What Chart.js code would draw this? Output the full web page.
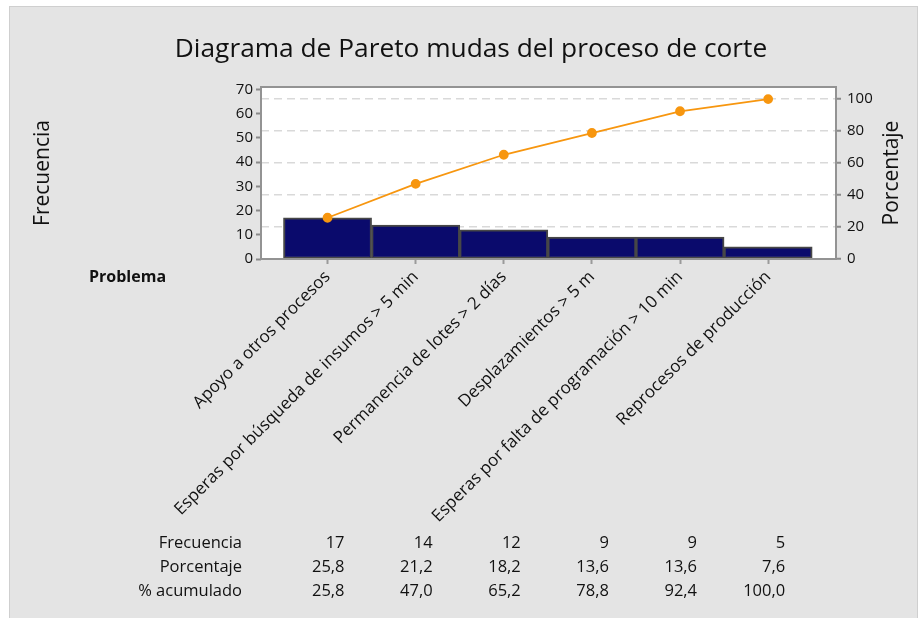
<!DOCTYPE html>
<html>
<head>
<meta charset="utf-8">
<script src="https://cdn.jsdelivr.net/npm/chart.js@4/dist/chart.umd.min.js"></script>
<style>
  html, body { margin: 0; padding: 0; background: #ffffff; }
  canvas { display: block; }
</style>
</head>
<body>
<canvas id="pareto" width="919" height="618"></canvas>
<script>
const categorias = [
    'Apoyo a otros procesos',
    'Esperas por búsqueda de insumos > 5 min',
    'Permanencia de lotes > 2 días',
    'Desplazamientos > 5 m',
    'Esperas por falta de programación > 10 min',
    'Reprocesos de producción'
];
const frecuencia = [17, 14, 12, 9, 9, 5];
const porcentaje = [25.8, 21.2, 18.2, 13.6, 13.6, 7.6];
const acumulado = [25.8, 47.0, 65.2, 78.8, 92.4, 100.0];
const ticksFrecuencia = [0, 10, 20, 30, 40, 50, 60, 70];
const ticksPorcentaje = [0, 20, 40, 60, 80, 100];

const FONT = "'Open Sans', 'Noto Sans', sans-serif";
const total = frecuencia.reduce((a, b) => a + b, 0);
const maxFrec = 71;
const maxPct = maxFrec / total * 100;

const fmt = v => v.toFixed(1).replace('.', ',');

// fondo gris, marco del área de trazado, títulos y tabla inferior
const decoracion = {
    id: 'decoracion',
    beforeDraw(chart) {
        const {ctx, chartArea: a} = chart;
        ctx.save();
        ctx.fillStyle = '#e4e4e4';
        ctx.fillRect(9, 6, 909, 612);
        ctx.strokeStyle = '#cfcfcf';
        ctx.lineWidth = 1;
        ctx.strokeRect(9.5, 6.5, 908, 612);
        ctx.fillStyle = '#ffffff';
        ctx.fillRect(a.left, a.top, a.right - a.left, a.bottom - a.top);
        ctx.restore();
    },
    afterDatasetsDraw(chart) {
        const {ctx, chartArea: a} = chart;
        ctx.save();
        ctx.strokeStyle = '#939393';
        ctx.lineWidth = 2;
        ctx.strokeRect(a.left, a.top, a.right - a.left, a.bottom - a.top);
        ctx.restore();
    },
    afterDraw(chart) {
        const {ctx, chartArea: a} = chart;
        const x = chart.scales.x;
        ctx.save();
        ctx.fillStyle = '#111111';

        ctx.font = `26.3px ${FONT}`;
        ctx.textAlign = 'center';
        ctx.textBaseline = 'alphabetic';
        ctx.fillText('Diagrama de Pareto mudas del proceso de corte', 471, 57);

        ctx.font = `21px ${FONT}`;
        ctx.textBaseline = 'middle';
        ctx.save();
        ctx.translate(43, (a.top + a.bottom) / 2);
        ctx.rotate(-Math.PI / 2);
        ctx.fillText('Frecuencia', 0, 0);
        ctx.restore();
        ctx.save();
        ctx.translate(892, (a.top + a.bottom) / 2);
        ctx.rotate(-Math.PI / 2);
        ctx.fillText('Porcentaje', 0, 0);
        ctx.restore();

        ctx.font = `bold 16px ${FONT}`;
        ctx.textAlign = 'left';
        ctx.textBaseline = 'alphabetic';
        ctx.fillText('Problema', 89, 282);

        const filas = [
            ['Frecuencia', frecuencia.map(v => String(v))],
            ['Porcentaje', porcentaje.map(fmt)],
            ['% acumulado', acumulado.map(fmt)]
        ];
        ctx.font = `16.5px ${FONT}`;
        ctx.textAlign = 'right';
        filas.forEach(([nombre, valores], r) => {
            const y = 547.5 + r * 24;
            ctx.fillText(nombre, 242, y);
            valores.forEach((t, i) => {
                ctx.fillText(t, x.getPixelForValue(i) + 17, y);
            });
        });
        ctx.restore();
    }
};

new Chart(document.getElementById('pareto').getContext('2d'), {
    data: {
        datasets: [
            {
                type: 'line',
                data: acumulado.map((v, i) => ({x: i, y: v})),
                yAxisID: 'yPct',
                borderColor: '#f7960f',
                backgroundColor: '#f7960f',
                borderWidth: 1.8,
                pointRadius: 4,
                pointHoverRadius: 4,
                tension: 0,
                order: 0
            },
            {
                type: 'bar',
                data: frecuencia.map((v, i) => ({x: i, y: v})),
                yAxisID: 'y',
                backgroundColor: '#0a0a6c',
                borderColor: '#474747',
                borderWidth: 2,
                borderSkipped: false,
                barPercentage: 1,
                categoryPercentage: 1,
                order: 1
            }
        ]
    },
    options: {
        responsive: false,
        animation: false,
        devicePixelRatio: 1,
        layout: {padding: {left: 216, right: 38, top: 87, bottom: 59}},
        plugins: {
            legend: {display: false},
            tooltip: {enabled: false}
        },
        scales: {
            x: {
                type: 'linear',
                position: 'bottom',
                offset: false,
                bounds: 'data',
                min: -0.755,
                max: 5.77,
                afterBuildTicks: s => { s.ticks = categorias.map((_, i) => ({value: i})); },
                afterFit: s => { s.height = 300; },
                border: {display: false},
                grid: {offset: false, drawOnChartArea: false, tickLength: 5, tickColor: '#9a9a9a', tickWidth: 2},
                ticks: {
                    autoSkip: false,
                    minRotation: 45,
                    maxRotation: 45,
                    padding: 3,
                    color: '#111111',
                    font: {family: FONT, size: 17},
                    callback: v => categorias[v]
                }
            },
            y: {
                type: 'linear',
                position: 'left',
                min: 0,
                max: maxFrec,
                afterBuildTicks: s => { s.ticks = ticksFrecuencia.map(v => ({value: v})); },
                afterFit: s => { s.width = 45; },
                border: {display: false},
                grid: {drawOnChartArea: false, tickLength: 5, tickColor: '#8a8a8a', tickWidth: 2},
                ticks: {padding: 3, color: '#111111', font: {family: FONT, size: 15}}
            },
            yPct: {
                type: 'linear',
                position: 'right',
                min: 0,
                max: maxPct,
                afterBuildTicks: s => { s.ticks = ticksPorcentaje.map(v => ({value: v})); },
                afterFit: s => { s.width = 45; },
                border: {display: false, dash: [8, 5]},
                grid: {
                    color: c => (c.tick && c.tick.value > 0 ? '#d9d9d9' : 'rgba(0,0,0,0)'),
                    lineWidth: 1.5,
                    tickLength: 5,
                    tickColor: '#8a8a8a',
                    tickWidth: 2
                },
                ticks: {padding: 6, color: '#111111', font: {family: FONT, size: 15}}
            }
        }
    },
    plugins: [decoracion]
});
</script>
</body>
</html>
